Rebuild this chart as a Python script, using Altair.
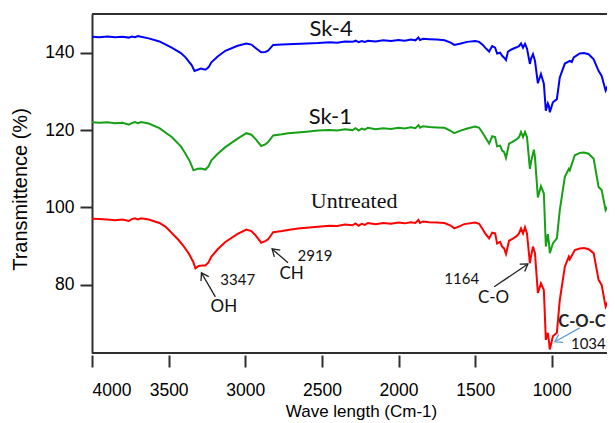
import math
import altair as alt
import pandas as pd

# ---------------- data (wavenumber, transmittance) ----------------
SERIES = ["Sk-4", "Sk-1", "Untreated"]
COLORS = ["#0000ff", "#16a016", "#ff0000"]

wn_sk4 = [4000, 3950, 3900, 3850, 3800, 3760, 3740, 3720, 3700, 3680, 3630, 3560, 3480, 3420, 3390,
          3350, 3331, 3310, 3290, 3260, 3240, 3221, 3180, 3130, 3050, 2993, 2960, 2935, 2896, 2870,
          2851, 2818, 2760, 2721, 2600, 2526, 2450, 2400, 2350, 2300, 2280, 2260, 2240, 2220, 2200,
          2150, 2100, 2050, 2000, 1960, 1920, 1890, 1870, 1860, 1840, 1800, 1750, 1700, 1660, 1636,
          1600, 1552, 1500, 1474, 1450, 1435, 1409, 1389, 1370, 1357, 1337, 1324, 1311, 1299, 1286,
          1260, 1230, 1214, 1201, 1188, 1175, 1162, 1143, 1136, 1123, 1110, 1091, 1071, 1052, 1039,
          1026, 1019, 1013, 993, 967, 948, 915, 883, 870, 857, 818, 790, 760, 727, 695, 675, 649, 630]
t_sk4 = [144.1, 144.0, 144.2, 144.0, 144.1, 143.9, 144.2, 144.0, 144.3, 144.1, 143.7, 142.9, 141.3, 139.9, 138.8,
         136.8, 135.3, 135.6, 135.9, 135.6, 136.2, 137.5, 139.0, 140.5, 141.8, 142.4, 142.1, 141.3, 140.1, 140.2,
         140.5, 142.0, 142.1, 142.2, 142.4, 142.5, 142.7, 142.6, 142.9, 142.8, 143.1, 142.7, 143.0, 142.8, 143.1,
         142.9, 143.2, 143.0, 143.3, 143.1, 143.4, 143.2, 143.9, 143.3, 143.6, 143.5, 143.4, 143.2, 142.6, 142.0,
         142.3, 142.8, 143.0, 142.8, 142.0, 141.3, 140.3, 141.7, 141.3, 139.8, 140.0, 139.2, 138.7, 138.1, 140.3,
         140.9, 141.4, 141.7, 142.4, 141.3, 142.3, 141.1, 137.1, 138.4, 139.6, 137.9, 132.1, 134.5, 132.0, 125.0,
         126.9, 126.2, 124.6, 127.2, 128.0, 133.6, 137.2, 137.9, 137.6, 138.8, 139.8, 139.9, 139.6, 138.3, 135.3,
         134.0, 130.2, 131.9]

wn_sk1 = [4000, 3950, 3900, 3850, 3800, 3760, 3740, 3720, 3700, 3680, 3630, 3560, 3480, 3420, 3390,
          3360, 3338, 3310, 3290, 3260, 3240, 3221, 3180, 3130, 3050, 2993, 2960, 2935, 2896, 2870,
          2851, 2818, 2760, 2721, 2600, 2526, 2450, 2400, 2350, 2300, 2280, 2260, 2240, 2220, 2200,
          2150, 2100, 2050, 2000, 1960, 1920, 1890, 1870, 1860, 1840, 1800, 1750, 1700, 1660, 1636,
          1600, 1552, 1500, 1474, 1450, 1435, 1409, 1389, 1370, 1357, 1337, 1324, 1311, 1299, 1279,
          1260, 1230, 1214, 1201, 1188, 1175, 1162, 1143, 1136, 1117, 1110, 1091, 1071, 1052, 1039,
          1026, 1019, 1013, 993, 967, 948, 915, 889, 883, 850, 818, 790, 760, 727, 695, 675, 649, 630]
t_sk1 = [122.0, 121.9, 122.0, 121.8, 121.9, 121.4, 121.8, 122.1, 121.8, 122.1, 121.7, 120.5, 118.2, 115.8, 113.9,
         111.8, 109.6, 110.0, 110.1, 109.8, 110.6, 112.2, 113.9, 115.6, 117.8, 119.2, 118.8, 117.8, 115.9, 116.3,
         116.9, 118.6, 118.9, 119.2, 119.6, 119.9, 120.0, 119.9, 120.2, 120.0, 120.5, 119.9, 120.4, 120.1, 120.6,
         120.2, 120.5, 120.3, 120.6, 120.4, 120.7, 120.5, 121.3, 120.6, 121.0, 120.8, 120.7, 120.6, 119.8, 119.2,
         119.8, 120.4, 120.9, 120.6, 119.2, 118.2, 116.5, 118.4, 118.2, 115.8, 116.0, 114.7, 114.3, 112.8, 116.5,
         116.9, 117.6, 118.2, 119.5, 118.2, 119.5, 118.2, 110.0, 111.7, 114.9, 113.0, 102.6, 105.5, 103.6, 89.9,
         93.1, 91.0, 88.2, 90.7, 92.0, 99.3, 107.9, 110.0, 109.6, 113.5, 114.1, 114.2, 113.9, 112.6, 105.3,
         104.5, 99.3, 100.6]

wn_un = [4000, 3950, 3900, 3850, 3800, 3760, 3740, 3720, 3700, 3680, 3630, 3560, 3519, 3435, 3400,
         3370, 3340, 3325, 3305, 3280, 3260, 3240, 3221, 3180, 3130, 3050, 2993, 2960, 2935, 2896,
         2870, 2851, 2818, 2760, 2721, 2656, 2526, 2450, 2400, 2350, 2300, 2280, 2260, 2240, 2220,
         2200, 2150, 2100, 2050, 2000, 1960, 1920, 1890, 1870, 1860, 1840, 1800, 1750, 1700, 1660,
         1636, 1600, 1571, 1500, 1474, 1450, 1435, 1409, 1389, 1370, 1357, 1337, 1324, 1311, 1299,
         1279, 1260, 1230, 1214, 1201, 1188, 1175, 1162, 1143, 1136, 1123, 1110, 1091, 1071, 1052,
         1039, 1026, 1019, 1013, 993, 967, 948, 915, 889, 883, 850, 818, 790, 760, 727, 695, 675, 649, 630]
t_un = [97.1, 97.0, 96.9, 96.7, 96.9, 96.5, 97.0, 97.2, 96.9, 97.2, 96.9, 96.0, 95.0, 91.6, 89.9,
        88.2, 86.0, 84.3, 84.9, 85.0, 85.0, 85.8, 87.3, 89.2, 91.1, 93.2, 94.3, 93.9, 92.9, 90.9,
        91.3, 91.8, 93.6, 93.9, 94.2, 94.6, 95.0, 95.3, 95.2, 95.6, 95.4, 95.9, 95.3, 95.8, 95.5,
        96.0, 95.7, 96.0, 95.8, 96.1, 95.9, 96.2, 96.0, 96.8, 96.0, 96.4, 96.2, 96.1, 96.0, 95.3,
        94.6, 95.2, 95.7, 96.1, 95.8, 94.3, 93.3, 92.0, 93.5, 93.3, 90.7, 91.1, 89.9, 89.4, 88.0,
        91.4, 91.8, 92.6, 93.3, 94.6, 93.3, 94.9, 93.3, 85.6, 87.3, 89.9, 88.2, 77.9, 80.4, 78.7,
        65.8, 67.6, 65.5, 63.3, 66.7, 67.6, 76.1, 84.7, 87.3, 86.6, 89.0, 89.4, 89.5, 89.2, 88.2,
        81.3, 80.0, 74.4, 76.1]

X_TICKS = [4000, 3500, 3000, 2500, 2000, 1500, 1000]
Y_TICKS = [80, 100, 120, 140]

# annotation texts: label, wavenumber, transmittance
label_text = ["Sk-4", "Sk-1", "Untreated", "3347", "OH", "CH", "2919", "1164", "C-O", "C-O-C", "1034"]
label_wn = [2440, 2445, 2290, 3049, 3140, 2698, 2545, 1588, 1380, 648, 648]
label_t = [144.35, 121.7, 99.8, 80.0, 73.05, 81.5, 86.2, 80.3, 75.4, 69.2, 63.5]

# arrows: tail -> tip
arrow_tail_wn = [3195, 2721, 1376, 818]
arrow_tail_t = [76.9, 85.7, 79.5, 68.9]
arrow_tip_wn = [3286, 2825, 1156, 980]
arrow_tip_t = [83.1, 89.3, 85.4, 65.3]
arrow_color = ["#222222", "#222222", "#222222", "#5b9bd5"]

# ---------------- chart ----------------
W, H = 515, 339
X_DOM = [4000, 640]
Y_DOM = [62.4, 150]
AX = "#2e2e2e"
SANS = "Liberation Sans"
ANN = "Lato"

xs = alt.Scale(domain=X_DOM, nice=False, zero=False)
ys = alt.Scale(domain=Y_DOM, nice=False, zero=False)

X_AXIS = alt.Axis(
    values=X_TICKS, format="d", grid=False, domain=False, offset=2,
    tickSize=12, tickWidth=2, tickColor=AX,
    labelFont=SANS, labelFontSize=17.5, labelColor="black",
    labelBaseline="middle", labelPadding=23,
    title="Wave length (Cm-1)", titleFont=SANS, titleFontSize=17,
    titleFontWeight="normal", titleColor="black",
    titleX=269, titleY=61, titleBaseline="alphabetic", titleAlign="center")
Y_AXIS = alt.Axis(
    values=Y_TICKS, grid=False, domain=True, domainColor=AX, domainWidth=2,
    tickSize=12, tickWidth=2, tickColor=AX,
    labelFont=SANS, labelFontSize=17.5, labelColor="black", labelPadding=6,
    title="Transmittence (%)", titleFont=SANS, titleFontSize=20,
    titleFontWeight="normal", titleColor="black",
    titleAngle=270, titleX=-72, titleY=175, titleBaseline="middle", titleAlign="center")

rows = []
for name, wns, ts in [("Sk-4", wn_sk4, t_sk4), ("Sk-1", wn_sk1, t_sk1), ("Untreated", wn_un, t_un)]:
    for w, t in zip(wns, ts):
        rows.append({"series": name, "wn": w, "t": t})
df = pd.DataFrame(rows)

lines = alt.Chart(df).mark_line(strokeWidth=2, clip=True).encode(
    x=alt.X("wn:Q", scale=xs, axis=X_AXIS),
    y=alt.Y("t:Q", scale=ys, axis=Y_AXIS),
    color=alt.Color("series:N", scale=alt.Scale(domain=SERIES, range=COLORS), legend=None),
)

one = pd.DataFrame({"a": [0]})
top_rule = alt.Chart(one).mark_rule(color=AX, strokeWidth=2).encode(
    x=alt.value(0), x2=alt.value(W), y=alt.value(0))
bottom_rule = alt.Chart(one).mark_rule(color=AX, strokeWidth=2).encode(
    x=alt.value(0), x2=alt.value(W), y=alt.value(H))

# arrows (head angle derived from the scales' pixel ratio)
sx = W / (X_DOM[0] - X_DOM[1])
sy = H / (Y_DOM[1] - Y_DOM[0])
arows = []
for tw, tt, pw, pt, c in zip(arrow_tail_wn, arrow_tail_t, arrow_tip_wn, arrow_tip_t, arrow_color):
    dx = -(pw - tw) * sx
    dy = -(pt - tt) * sy
    ang = math.degrees(math.atan2(dx, -dy)) % 360
    arows.append({"wn": tw, "t": tt, "wn2": pw, "t2": pt, "col": c, "ang": ang})
adf = pd.DataFrame(arows)

shafts = alt.Chart(adf).mark_rule(strokeWidth=1.3).encode(
    x=alt.X("wn:Q", scale=xs, axis=X_AXIS), x2="wn2:Q",
    y=alt.Y("t:Q", scale=ys, axis=Y_AXIS), y2="t2:Q",
    color=alt.Color("col:N", scale=None))
heads = alt.Chart(adf).mark_point(
    shape="M-0.65,1L0,0L0.65,1", filled=False, size=190, strokeWidth=1.3, opacity=1).encode(
    x=alt.X("wn2:Q", scale=xs, axis=X_AXIS),
    y=alt.Y("t2:Q", scale=ys, axis=Y_AXIS),
    angle=alt.Angle("ang:Q", scale=None),
    color=alt.Color("col:N", scale=None))

STYLE = {
    "Sk-4": dict(font=ANN, fontSize=22, align="center", color="#111"),
    "Sk-1": dict(font=ANN, fontSize=22, align="center", color="#111"),
    "Untreated": dict(font="Liberation Serif", fontSize=22, align="center", color="#111"),
    "3347": dict(font=ANN, fontSize=15, align="center", color="#111"),
    "OH": dict(font=ANN, fontSize=17, align="center", color="#111"),
    "CH": dict(font=ANN, fontSize=17, align="center", color="#111"),
    "2919": dict(font=ANN, fontSize=15, align="center", color="#111"),
    "1164": dict(font=ANN, fontSize=15, align="center", color="#111"),
    "C-O": dict(font=ANN, fontSize=17, align="center", color="#111"),
    "C-O-C": dict(font=ANN, fontSize=16.5, align="right", color="#222", fontWeight="bold"),
    "1034": dict(font=ANN, fontSize=15, align="right", color="#111"),
}
texts = []
for lab, w, t in zip(label_text, label_wn, label_t):
    tdf = pd.DataFrame({"label": [lab], "wn": [w], "t": [t]})
    texts.append(alt.Chart(tdf).mark_text(baseline="alphabetic", **STYLE[lab]).encode(
        x=alt.X("wn:Q", scale=xs, axis=X_AXIS),
        y=alt.Y("t:Q", scale=ys, axis=Y_AXIS),
        text="label:N"))

chart = alt.layer(lines, top_rule, bottom_rule, shafts, heads, *texts).properties(
    width=W, height=H,
    autosize=alt.AutoSizeParams(type="none"),
    padding={"left": 84, "top": 6, "right": 0, "bottom": 69},
).configure_view(stroke=None)

chart.save("out.html", embed_options={"renderer": "svg", "actions": False})
